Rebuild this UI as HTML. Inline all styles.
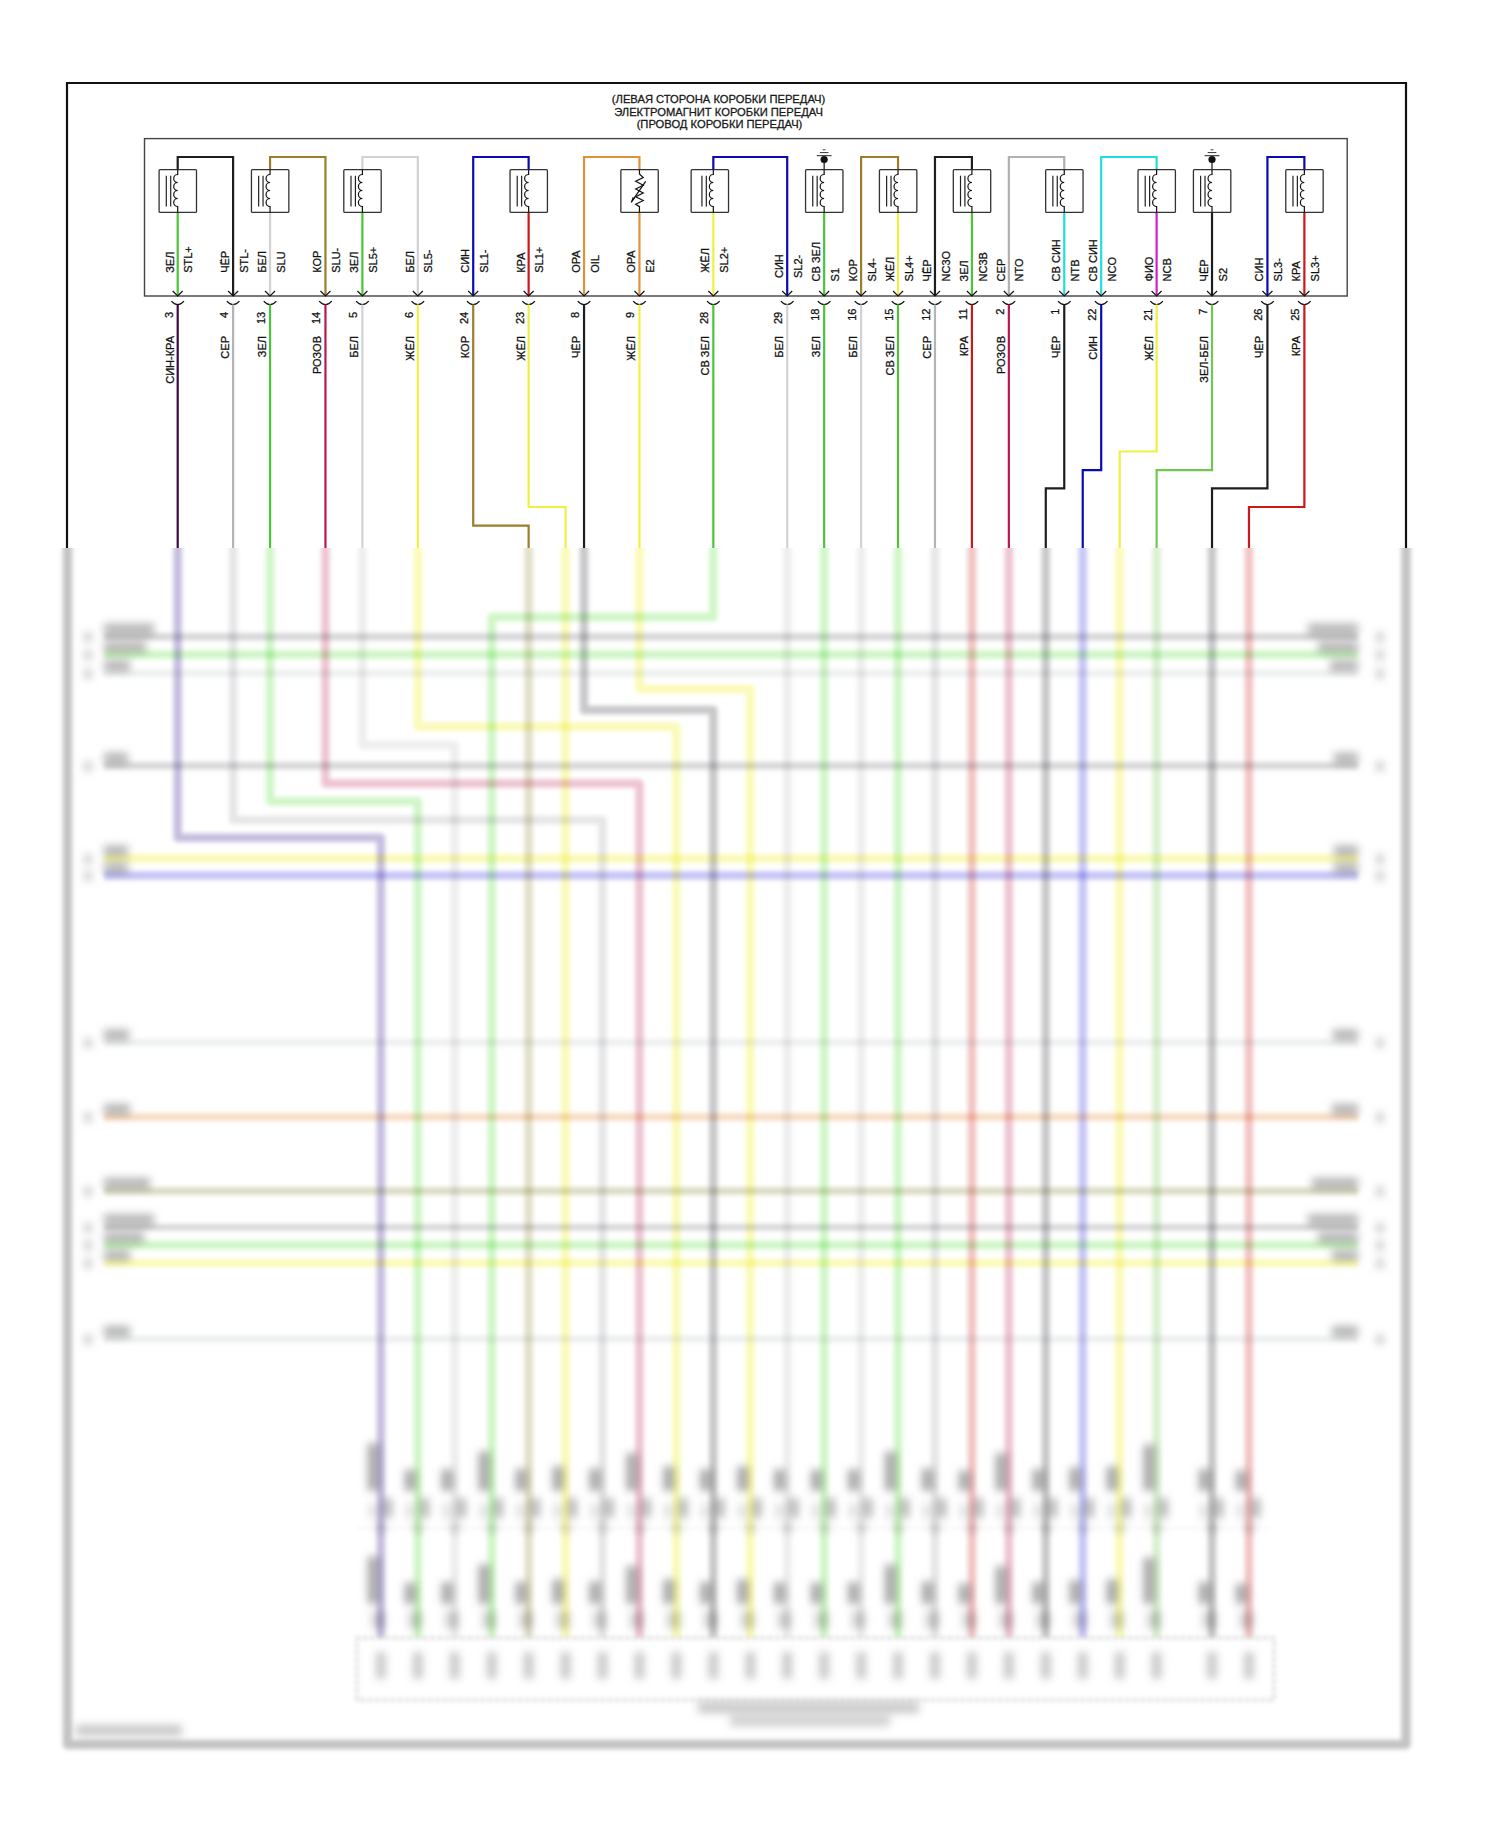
<!DOCTYPE html>
<html><head><meta charset="utf-8"><style>
html,body{margin:0;padding:0;background:#fff;}
body{width:1500px;height:1828px;overflow:hidden;}
svg{display:block;font-family:"Liberation Sans",sans-serif;}
</style></head><body>
<svg width="1500" height="1828" viewBox="0 0 1500 1828">
<defs>
<clipPath id="ctop"><rect x="0" y="0" width="1500" height="548"/></clipPath>
<clipPath id="cbot"><rect x="0" y="548" width="1500" height="1280"/></clipPath>
<filter id="bl" x="-5%" y="-5%" width="110%" height="110%"><feGaussianBlur stdDeviation="2.2"/></filter>
<filter id="bt" x="-5%" y="-5%" width="110%" height="110%"><feGaussianBlur stdDeviation="4.2"/></filter>
</defs>
<rect width="1500" height="1828" fill="#fff"/>

<g clip-path="url(#ctop)" stroke-linecap="butt">
<style>.tt text{stroke:#111;stroke-width:0.28px;}</style>
<path d="M67,560 L67,83 L1406,83 L1406,560" fill="none" stroke="#111" stroke-width="2.2"/>
<g font-size="11.2" fill="#222" text-anchor="middle" class="tt">
<text x="718.5" y="103.3">(ЛЕВАЯ СТОРОНА КОРОБКИ ПЕРЕДАЧ)</text>
<text x="718.5" y="115.8">ЭЛЕКТРОМАГНИТ КОРОБКИ ПЕРЕДАЧ</text>
<text x="719.5" y="128.3">(ПРОВОД КОРОБКИ ПЕРЕДАЧ)</text>
</g>
<rect x="144.5" y="138.6" width="1202.7" height="157.4" fill="none" stroke="#444" stroke-width="1.4"/>
<path d="M177.70,169.7 L177.70,157 L233.11,157 L233.11,295" fill="none" stroke="#1e1e1e" stroke-width="2.2" stroke-linejoin="miter"/>
<line x1="177.70" y1="212.4" x2="177.70" y2="295" stroke="#4cc438" stroke-width="2.2"/>
<rect x="159.10" y="169.7" width="37.4" height="42.70" rx="1" fill="#fff" stroke="#333" stroke-width="1.3"/><path d="M177.70,169.7 L177.70,174.5 A4,4 0 0 0 177.70,182.50 A4,4 0 0 0 177.70,190.50 A4,4 0 0 0 177.70,198.50 A4,4 0 0 0 177.70,206.50 L177.70,212.4" fill="none" stroke="#111" stroke-width="1.2"/><line x1="166.30" y1="175.7" x2="166.30" y2="206.4" stroke="#222" stroke-width="1.2"/><line x1="170.70" y1="175.7" x2="170.70" y2="206.4" stroke="#222" stroke-width="1.2"/>
<path d="M270.05,169.7 L270.05,157 L325.46,157 L325.46,295" fill="none" stroke="#9a7e2a" stroke-width="2.2" stroke-linejoin="miter"/>
<line x1="270.05" y1="212.4" x2="270.05" y2="295" stroke="#d2d2d2" stroke-width="2.2"/>
<rect x="251.45" y="169.7" width="37.4" height="42.70" rx="1" fill="#fff" stroke="#333" stroke-width="1.3"/><path d="M270.05,169.7 L270.05,174.5 A4,4 0 0 0 270.05,182.50 A4,4 0 0 0 270.05,190.50 A4,4 0 0 0 270.05,198.50 A4,4 0 0 0 270.05,206.50 L270.05,212.4" fill="none" stroke="#111" stroke-width="1.2"/><line x1="258.65" y1="175.7" x2="258.65" y2="206.4" stroke="#222" stroke-width="1.2"/><line x1="263.05" y1="175.7" x2="263.05" y2="206.4" stroke="#222" stroke-width="1.2"/>
<path d="M362.40,169.7 L362.40,157 L417.81,157 L417.81,295" fill="none" stroke="#d2d2d2" stroke-width="2.2" stroke-linejoin="miter"/>
<line x1="362.40" y1="212.4" x2="362.40" y2="295" stroke="#4cc438" stroke-width="2.2"/>
<rect x="343.80" y="169.7" width="37.4" height="42.70" rx="1" fill="#fff" stroke="#333" stroke-width="1.3"/><path d="M362.40,169.7 L362.40,174.5 A4,4 0 0 0 362.40,182.50 A4,4 0 0 0 362.40,190.50 A4,4 0 0 0 362.40,198.50 A4,4 0 0 0 362.40,206.50 L362.40,212.4" fill="none" stroke="#111" stroke-width="1.2"/><line x1="351.00" y1="175.7" x2="351.00" y2="206.4" stroke="#222" stroke-width="1.2"/><line x1="355.40" y1="175.7" x2="355.40" y2="206.4" stroke="#222" stroke-width="1.2"/>
<path d="M528.63,169.7 L528.63,157 L473.22,157 L473.22,295" fill="none" stroke="#0a0ab4" stroke-width="2.2" stroke-linejoin="miter"/>
<line x1="528.63" y1="212.4" x2="528.63" y2="295" stroke="#cc1818" stroke-width="2.2"/>
<rect x="510.03" y="169.7" width="37.4" height="42.70" rx="1" fill="#fff" stroke="#333" stroke-width="1.3"/><path d="M528.63,169.7 L528.63,174.5 A4,4 0 0 0 528.63,182.50 A4,4 0 0 0 528.63,190.50 A4,4 0 0 0 528.63,198.50 A4,4 0 0 0 528.63,206.50 L528.63,212.4" fill="none" stroke="#111" stroke-width="1.2"/><line x1="517.23" y1="175.7" x2="517.23" y2="206.4" stroke="#222" stroke-width="1.2"/><line x1="521.63" y1="175.7" x2="521.63" y2="206.4" stroke="#222" stroke-width="1.2"/>
<path d="M639.45,169.7 L639.45,157 L584.04,157 L584.04,295" fill="none" stroke="#e0923a" stroke-width="2.2" stroke-linejoin="miter"/>
<line x1="639.45" y1="212.4" x2="639.45" y2="295" stroke="#e0923a" stroke-width="2.2"/>
<rect x="620.85" y="169.7" width="37.4" height="42.70" rx="1" fill="#fff" stroke="#333" stroke-width="1.3"/><path d="M639.45,169.70 L639.45,174.00 L643.25,177.50 L635.65,181.30 L643.25,185.20 L635.65,189.00 L643.25,193.00 L635.65,196.70 L643.25,200.50 L635.65,204.30 L639.45,206.70 L639.45,212.40" fill="none" stroke="#111" stroke-width="1.2"/><line x1="631.25" y1="202.3" x2="645.65" y2="181.3" stroke="#111" stroke-width="1.2"/><path d="M630.85,202.8 L632.65,197.0 L634.85,198.6 Z" fill="#111"/>
<path d="M713.33,169.7 L713.33,157 L787.21,157 L787.21,295" fill="none" stroke="#0a0ab4" stroke-width="2.2" stroke-linejoin="miter"/>
<line x1="713.33" y1="212.4" x2="713.33" y2="295" stroke="#f0f040" stroke-width="2.2"/>
<rect x="691.13" y="169.7" width="37.4" height="42.70" rx="1" fill="#fff" stroke="#333" stroke-width="1.3"/><path d="M713.33,169.7 L713.33,174.5 A4,4 0 0 0 713.33,182.50 A4,4 0 0 0 713.33,190.50 A4,4 0 0 0 713.33,198.50 A4,4 0 0 0 713.33,206.50 L713.33,212.4" fill="none" stroke="#111" stroke-width="1.2"/><line x1="701.93" y1="175.7" x2="701.93" y2="206.4" stroke="#222" stroke-width="1.2"/><line x1="706.33" y1="175.7" x2="706.33" y2="206.4" stroke="#222" stroke-width="1.2"/>
<line x1="824.15" y1="212.4" x2="824.15" y2="295" stroke="#4cc438" stroke-width="2.2"/>
<line x1="824.15" y1="160" x2="824.15" y2="169.7" stroke="#111" stroke-width="1.2"/><circle cx="824.15" cy="159.5" r="3.6" fill="#111"/><line x1="816.75" y1="155.7" x2="831.55" y2="155.7" stroke="#222" stroke-width="1"/><line x1="819.85" y1="152.6" x2="828.45" y2="152.6" stroke="#333" stroke-width="1"/><line x1="822.75" y1="149.8" x2="825.55" y2="149.8" stroke="#444" stroke-width="1"/><rect x="805.55" y="169.7" width="37.4" height="42.70" rx="1" fill="#fff" stroke="#333" stroke-width="1.3"/><path d="M824.15,169.7 L824.15,174.5 A4,4 0 0 0 824.15,182.50 A4,4 0 0 0 824.15,190.50 A4,4 0 0 0 824.15,198.50 A4,4 0 0 0 824.15,206.50 L824.15,212.4" fill="none" stroke="#111" stroke-width="1.2"/><line x1="812.75" y1="175.7" x2="812.75" y2="206.4" stroke="#222" stroke-width="1.2"/><line x1="817.15" y1="175.7" x2="817.15" y2="206.4" stroke="#222" stroke-width="1.2"/>
<path d="M898.03,169.7 L898.03,157 L861.09,157 L861.09,295" fill="none" stroke="#9a7e2a" stroke-width="2.2" stroke-linejoin="miter"/>
<line x1="898.03" y1="212.4" x2="898.03" y2="295" stroke="#f0f040" stroke-width="2.2"/>
<rect x="879.43" y="169.7" width="37.4" height="42.70" rx="1" fill="#fff" stroke="#333" stroke-width="1.3"/><path d="M898.03,169.7 L898.03,174.5 A4,4 0 0 0 898.03,182.50 A4,4 0 0 0 898.03,190.50 A4,4 0 0 0 898.03,198.50 A4,4 0 0 0 898.03,206.50 L898.03,212.4" fill="none" stroke="#111" stroke-width="1.2"/><line x1="886.63" y1="175.7" x2="886.63" y2="206.4" stroke="#222" stroke-width="1.2"/><line x1="891.03" y1="175.7" x2="891.03" y2="206.4" stroke="#222" stroke-width="1.2"/>
<path d="M971.91,169.7 L971.91,157 L934.97,157 L934.97,295" fill="none" stroke="#1e1e1e" stroke-width="2.2" stroke-linejoin="miter"/>
<line x1="971.91" y1="212.4" x2="971.91" y2="295" stroke="#4cc438" stroke-width="2.2"/>
<rect x="953.31" y="169.7" width="37.4" height="42.70" rx="1" fill="#fff" stroke="#333" stroke-width="1.3"/><path d="M971.91,169.7 L971.91,174.5 A4,4 0 0 0 971.91,182.50 A4,4 0 0 0 971.91,190.50 A4,4 0 0 0 971.91,198.50 A4,4 0 0 0 971.91,206.50 L971.91,212.4" fill="none" stroke="#111" stroke-width="1.2"/><line x1="960.51" y1="175.7" x2="960.51" y2="206.4" stroke="#222" stroke-width="1.2"/><line x1="964.91" y1="175.7" x2="964.91" y2="206.4" stroke="#222" stroke-width="1.2"/>
<path d="M1064.26,169.7 L1064.26,157 L1008.85,157 L1008.85,295" fill="none" stroke="#b0b0b0" stroke-width="2.2" stroke-linejoin="miter"/>
<line x1="1064.26" y1="212.4" x2="1064.26" y2="295" stroke="#22dddd" stroke-width="2.2"/>
<rect x="1045.66" y="169.7" width="37.4" height="42.70" rx="1" fill="#fff" stroke="#333" stroke-width="1.3"/><path d="M1064.26,169.7 L1064.26,174.5 A4,4 0 0 0 1064.26,182.50 A4,4 0 0 0 1064.26,190.50 A4,4 0 0 0 1064.26,198.50 A4,4 0 0 0 1064.26,206.50 L1064.26,212.4" fill="none" stroke="#111" stroke-width="1.2"/><line x1="1052.86" y1="175.7" x2="1052.86" y2="206.4" stroke="#222" stroke-width="1.2"/><line x1="1057.26" y1="175.7" x2="1057.26" y2="206.4" stroke="#222" stroke-width="1.2"/>
<path d="M1156.61,169.7 L1156.61,157 L1101.20,157 L1101.20,295" fill="none" stroke="#22dddd" stroke-width="2.2" stroke-linejoin="miter"/>
<line x1="1156.61" y1="212.4" x2="1156.61" y2="295" stroke="#cc22cc" stroke-width="2.2"/>
<rect x="1138.01" y="169.7" width="37.4" height="42.70" rx="1" fill="#fff" stroke="#333" stroke-width="1.3"/><path d="M1156.61,169.7 L1156.61,174.5 A4,4 0 0 0 1156.61,182.50 A4,4 0 0 0 1156.61,190.50 A4,4 0 0 0 1156.61,198.50 A4,4 0 0 0 1156.61,206.50 L1156.61,212.4" fill="none" stroke="#111" stroke-width="1.2"/><line x1="1145.21" y1="175.7" x2="1145.21" y2="206.4" stroke="#222" stroke-width="1.2"/><line x1="1149.61" y1="175.7" x2="1149.61" y2="206.4" stroke="#222" stroke-width="1.2"/>
<line x1="1212.02" y1="212.4" x2="1212.02" y2="295" stroke="#1e1e1e" stroke-width="2.2"/>
<line x1="1212.02" y1="160" x2="1212.02" y2="169.7" stroke="#111" stroke-width="1.2"/><circle cx="1212.02" cy="159.5" r="3.6" fill="#111"/><line x1="1204.62" y1="155.7" x2="1219.42" y2="155.7" stroke="#222" stroke-width="1"/><line x1="1207.72" y1="152.6" x2="1216.32" y2="152.6" stroke="#333" stroke-width="1"/><line x1="1210.62" y1="149.8" x2="1213.42" y2="149.8" stroke="#444" stroke-width="1"/><rect x="1193.42" y="169.7" width="37.4" height="42.70" rx="1" fill="#fff" stroke="#333" stroke-width="1.3"/><path d="M1212.02,169.7 L1212.02,174.5 A4,4 0 0 0 1212.02,182.50 A4,4 0 0 0 1212.02,190.50 A4,4 0 0 0 1212.02,198.50 A4,4 0 0 0 1212.02,206.50 L1212.02,212.4" fill="none" stroke="#111" stroke-width="1.2"/><line x1="1200.62" y1="175.7" x2="1200.62" y2="206.4" stroke="#222" stroke-width="1.2"/><line x1="1205.02" y1="175.7" x2="1205.02" y2="206.4" stroke="#222" stroke-width="1.2"/>
<path d="M1304.37,169.7 L1304.37,157 L1267.43,157 L1267.43,295" fill="none" stroke="#0a0ab4" stroke-width="2.2" stroke-linejoin="miter"/>
<line x1="1304.37" y1="212.4" x2="1304.37" y2="295" stroke="#cc1818" stroke-width="2.2"/>
<rect x="1285.77" y="169.7" width="37.4" height="42.70" rx="1" fill="#fff" stroke="#333" stroke-width="1.3"/><path d="M1304.37,169.7 L1304.37,174.5 A4,4 0 0 0 1304.37,182.50 A4,4 0 0 0 1304.37,190.50 A4,4 0 0 0 1304.37,198.50 A4,4 0 0 0 1304.37,206.50 L1304.37,212.4" fill="none" stroke="#111" stroke-width="1.2"/><line x1="1292.97" y1="175.7" x2="1292.97" y2="206.4" stroke="#222" stroke-width="1.2"/><line x1="1297.37" y1="175.7" x2="1297.37" y2="206.4" stroke="#222" stroke-width="1.2"/>
<g class="tt">
<path d="M172.70,291 L177.70,296 L182.70,291" fill="none" stroke="#111" stroke-width="1.2"/>
<path d="M171.40,301.1 Q174.20,304.5 177.70,304.5 Q181.20,304.5 184.00,301.1" fill="none" stroke="#111" stroke-width="1.2"/>
<text transform="translate(173.60,272.80) rotate(-90)" text-anchor="start" font-size="11" fill="#111">ЗЕЛ</text>
<text transform="translate(192.30,272.80) rotate(-90)" text-anchor="start" font-size="11" fill="#111">STL+</text>
<text transform="translate(172.70,311.80) rotate(-90)" text-anchor="end" font-size="11" fill="#111">3</text>
<text transform="translate(173.60,336.00) rotate(-90)" text-anchor="end" font-size="11" fill="#111">СИН-КРА</text>
<path d="M228.11,291 L233.11,296 L238.11,291" fill="none" stroke="#111" stroke-width="1.2"/>
<path d="M226.81,301.1 Q229.61,304.5 233.11,304.5 Q236.61,304.5 239.41,301.1" fill="none" stroke="#111" stroke-width="1.2"/>
<text transform="translate(229.01,272.80) rotate(-90)" text-anchor="start" font-size="11" fill="#111">ЧЁР</text>
<text transform="translate(247.71,272.80) rotate(-90)" text-anchor="start" font-size="11" fill="#111">STL-</text>
<text transform="translate(228.11,311.80) rotate(-90)" text-anchor="end" font-size="11" fill="#111">4</text>
<text transform="translate(229.01,336.00) rotate(-90)" text-anchor="end" font-size="11" fill="#111">СЕР</text>
<path d="M265.05,291 L270.05,296 L275.05,291" fill="none" stroke="#111" stroke-width="1.2"/>
<path d="M263.75,301.1 Q266.55,304.5 270.05,304.5 Q273.55,304.5 276.35,301.1" fill="none" stroke="#111" stroke-width="1.2"/>
<text transform="translate(265.95,272.80) rotate(-90)" text-anchor="start" font-size="11" fill="#111">БЕЛ</text>
<text transform="translate(284.65,272.80) rotate(-90)" text-anchor="start" font-size="11" fill="#111">SLU</text>
<text transform="translate(265.05,311.80) rotate(-90)" text-anchor="end" font-size="11" fill="#111">13</text>
<text transform="translate(265.95,336.00) rotate(-90)" text-anchor="end" font-size="11" fill="#111">ЗЕЛ</text>
<path d="M320.46,291 L325.46,296 L330.46,291" fill="none" stroke="#111" stroke-width="1.2"/>
<path d="M319.16,301.1 Q321.96,304.5 325.46,304.5 Q328.96,304.5 331.76,301.1" fill="none" stroke="#111" stroke-width="1.2"/>
<text transform="translate(321.36,272.80) rotate(-90)" text-anchor="start" font-size="11" fill="#111">КОР</text>
<text transform="translate(340.06,272.80) rotate(-90)" text-anchor="start" font-size="11" fill="#111">SLU-</text>
<text transform="translate(320.46,311.80) rotate(-90)" text-anchor="end" font-size="11" fill="#111">14</text>
<text transform="translate(321.36,336.00) rotate(-90)" text-anchor="end" font-size="11" fill="#111">РОЗОВ</text>
<path d="M357.40,291 L362.40,296 L367.40,291" fill="none" stroke="#111" stroke-width="1.2"/>
<path d="M356.10,301.1 Q358.90,304.5 362.40,304.5 Q365.90,304.5 368.70,301.1" fill="none" stroke="#111" stroke-width="1.2"/>
<text transform="translate(358.30,272.80) rotate(-90)" text-anchor="start" font-size="11" fill="#111">ЗЕЛ</text>
<text transform="translate(377.00,272.80) rotate(-90)" text-anchor="start" font-size="11" fill="#111">SL5+</text>
<text transform="translate(357.40,311.80) rotate(-90)" text-anchor="end" font-size="11" fill="#111">5</text>
<text transform="translate(358.30,336.00) rotate(-90)" text-anchor="end" font-size="11" fill="#111">БЕЛ</text>
<path d="M412.81,291 L417.81,296 L422.81,291" fill="none" stroke="#111" stroke-width="1.2"/>
<path d="M411.51,301.1 Q414.31,304.5 417.81,304.5 Q421.31,304.5 424.11,301.1" fill="none" stroke="#111" stroke-width="1.2"/>
<text transform="translate(413.71,272.80) rotate(-90)" text-anchor="start" font-size="11" fill="#111">БЕЛ</text>
<text transform="translate(432.41,272.80) rotate(-90)" text-anchor="start" font-size="11" fill="#111">SL5-</text>
<text transform="translate(412.81,311.80) rotate(-90)" text-anchor="end" font-size="11" fill="#111">6</text>
<text transform="translate(413.71,336.00) rotate(-90)" text-anchor="end" font-size="11" fill="#111">ЖЁЛ</text>
<path d="M468.22,291 L473.22,296 L478.22,291" fill="none" stroke="#111" stroke-width="1.2"/>
<path d="M466.92,301.1 Q469.72,304.5 473.22,304.5 Q476.72,304.5 479.52,301.1" fill="none" stroke="#111" stroke-width="1.2"/>
<text transform="translate(469.12,272.80) rotate(-90)" text-anchor="start" font-size="11" fill="#111">СИН</text>
<text transform="translate(487.82,272.80) rotate(-90)" text-anchor="start" font-size="11" fill="#111">SL1-</text>
<text transform="translate(468.22,311.80) rotate(-90)" text-anchor="end" font-size="11" fill="#111">24</text>
<text transform="translate(469.12,336.00) rotate(-90)" text-anchor="end" font-size="11" fill="#111">КОР</text>
<path d="M523.63,291 L528.63,296 L533.63,291" fill="none" stroke="#111" stroke-width="1.2"/>
<path d="M522.33,301.1 Q525.13,304.5 528.63,304.5 Q532.13,304.5 534.93,301.1" fill="none" stroke="#111" stroke-width="1.2"/>
<text transform="translate(524.53,272.80) rotate(-90)" text-anchor="start" font-size="11" fill="#111">КРА</text>
<text transform="translate(543.23,272.80) rotate(-90)" text-anchor="start" font-size="11" fill="#111">SL1+</text>
<text transform="translate(523.63,311.80) rotate(-90)" text-anchor="end" font-size="11" fill="#111">23</text>
<text transform="translate(524.53,336.00) rotate(-90)" text-anchor="end" font-size="11" fill="#111">ЖЁЛ</text>
<path d="M579.04,291 L584.04,296 L589.04,291" fill="none" stroke="#111" stroke-width="1.2"/>
<path d="M577.74,301.1 Q580.54,304.5 584.04,304.5 Q587.54,304.5 590.34,301.1" fill="none" stroke="#111" stroke-width="1.2"/>
<text transform="translate(579.94,272.80) rotate(-90)" text-anchor="start" font-size="11" fill="#111">ОРА</text>
<text transform="translate(598.64,272.80) rotate(-90)" text-anchor="start" font-size="11" fill="#111">OIL</text>
<text transform="translate(579.04,311.80) rotate(-90)" text-anchor="end" font-size="11" fill="#111">8</text>
<text transform="translate(579.94,336.00) rotate(-90)" text-anchor="end" font-size="11" fill="#111">ЧЁР</text>
<path d="M634.45,291 L639.45,296 L644.45,291" fill="none" stroke="#111" stroke-width="1.2"/>
<path d="M633.15,301.1 Q635.95,304.5 639.45,304.5 Q642.95,304.5 645.75,301.1" fill="none" stroke="#111" stroke-width="1.2"/>
<text transform="translate(635.35,272.80) rotate(-90)" text-anchor="start" font-size="11" fill="#111">ОРА</text>
<text transform="translate(654.05,272.80) rotate(-90)" text-anchor="start" font-size="11" fill="#111">E2</text>
<text transform="translate(634.45,311.80) rotate(-90)" text-anchor="end" font-size="11" fill="#111">9</text>
<text transform="translate(635.35,336.00) rotate(-90)" text-anchor="end" font-size="11" fill="#111">ЖЁЛ</text>
<path d="M708.33,291 L713.33,296 L718.33,291" fill="none" stroke="#111" stroke-width="1.2"/>
<path d="M707.03,301.1 Q709.83,304.5 713.33,304.5 Q716.83,304.5 719.63,301.1" fill="none" stroke="#111" stroke-width="1.2"/>
<text transform="translate(709.23,272.80) rotate(-90)" text-anchor="start" font-size="11" fill="#111">ЖЁЛ</text>
<text transform="translate(727.93,272.80) rotate(-90)" text-anchor="start" font-size="11" fill="#111">SL2+</text>
<text transform="translate(708.33,311.80) rotate(-90)" text-anchor="end" font-size="11" fill="#111">28</text>
<text transform="translate(709.23,336.00) rotate(-90)" text-anchor="end" font-size="11" fill="#111">СВ ЗЕЛ</text>
<path d="M782.21,291 L787.21,296 L792.21,291" fill="none" stroke="#111" stroke-width="1.2"/>
<path d="M780.91,301.1 Q783.71,304.5 787.21,304.5 Q790.71,304.5 793.51,301.1" fill="none" stroke="#111" stroke-width="1.2"/>
<text transform="translate(783.11,278.00) rotate(-90)" text-anchor="start" font-size="11" fill="#111">СИН</text>
<text transform="translate(801.81,278.00) rotate(-90)" text-anchor="start" font-size="11" fill="#111">SL2-</text>
<text transform="translate(782.21,311.80) rotate(-90)" text-anchor="end" font-size="11" fill="#111">29</text>
<text transform="translate(783.11,336.00) rotate(-90)" text-anchor="end" font-size="11" fill="#111">БЕЛ</text>
<path d="M819.15,291 L824.15,296 L829.15,291" fill="none" stroke="#111" stroke-width="1.2"/>
<path d="M817.85,301.1 Q820.65,304.5 824.15,304.5 Q827.65,304.5 830.45,301.1" fill="none" stroke="#111" stroke-width="1.2"/>
<text transform="translate(820.05,281.40) rotate(-90)" text-anchor="start" font-size="11" fill="#111">СВ ЗЕЛ</text>
<text transform="translate(838.75,281.40) rotate(-90)" text-anchor="start" font-size="11" fill="#111">S1</text>
<text transform="translate(819.15,308.50) rotate(-90)" text-anchor="end" font-size="11" fill="#111">18</text>
<text transform="translate(820.05,336.00) rotate(-90)" text-anchor="end" font-size="11" fill="#111">ЗЕЛ</text>
<path d="M856.09,291 L861.09,296 L866.09,291" fill="none" stroke="#111" stroke-width="1.2"/>
<path d="M854.79,301.1 Q857.59,304.5 861.09,304.5 Q864.59,304.5 867.39,301.1" fill="none" stroke="#111" stroke-width="1.2"/>
<text transform="translate(856.99,281.40) rotate(-90)" text-anchor="start" font-size="11" fill="#111">КОР</text>
<text transform="translate(875.69,281.40) rotate(-90)" text-anchor="start" font-size="11" fill="#111">SL4-</text>
<text transform="translate(856.09,308.50) rotate(-90)" text-anchor="end" font-size="11" fill="#111">16</text>
<text transform="translate(856.99,336.00) rotate(-90)" text-anchor="end" font-size="11" fill="#111">БЕЛ</text>
<path d="M893.03,291 L898.03,296 L903.03,291" fill="none" stroke="#111" stroke-width="1.2"/>
<path d="M891.73,301.1 Q894.53,304.5 898.03,304.5 Q901.53,304.5 904.33,301.1" fill="none" stroke="#111" stroke-width="1.2"/>
<text transform="translate(893.93,281.40) rotate(-90)" text-anchor="start" font-size="11" fill="#111">ЖЁЛ</text>
<text transform="translate(912.63,281.40) rotate(-90)" text-anchor="start" font-size="11" fill="#111">SL4+</text>
<text transform="translate(893.03,308.50) rotate(-90)" text-anchor="end" font-size="11" fill="#111">15</text>
<text transform="translate(893.93,336.00) rotate(-90)" text-anchor="end" font-size="11" fill="#111">СВ ЗЕЛ</text>
<path d="M929.97,291 L934.97,296 L939.97,291" fill="none" stroke="#111" stroke-width="1.2"/>
<path d="M928.67,301.1 Q931.47,304.5 934.97,304.5 Q938.47,304.5 941.27,301.1" fill="none" stroke="#111" stroke-width="1.2"/>
<text transform="translate(930.87,281.40) rotate(-90)" text-anchor="start" font-size="11" fill="#111">ЧЁР</text>
<text transform="translate(949.57,281.40) rotate(-90)" text-anchor="start" font-size="11" fill="#111">NC3O</text>
<text transform="translate(929.97,308.50) rotate(-90)" text-anchor="end" font-size="11" fill="#111">12</text>
<text transform="translate(930.87,336.00) rotate(-90)" text-anchor="end" font-size="11" fill="#111">СЕР</text>
<path d="M966.91,291 L971.91,296 L976.91,291" fill="none" stroke="#111" stroke-width="1.2"/>
<path d="M965.61,301.1 Q968.41,304.5 971.91,304.5 Q975.41,304.5 978.21,301.1" fill="none" stroke="#111" stroke-width="1.2"/>
<text transform="translate(967.81,281.40) rotate(-90)" text-anchor="start" font-size="11" fill="#111">ЗЕЛ</text>
<text transform="translate(986.51,281.40) rotate(-90)" text-anchor="start" font-size="11" fill="#111">NC3B</text>
<text transform="translate(966.91,308.50) rotate(-90)" text-anchor="end" font-size="11" fill="#111">11</text>
<text transform="translate(967.81,336.00) rotate(-90)" text-anchor="end" font-size="11" fill="#111">КРА</text>
<path d="M1003.85,291 L1008.85,296 L1013.85,291" fill="none" stroke="#111" stroke-width="1.2"/>
<path d="M1002.55,301.1 Q1005.35,304.5 1008.85,304.5 Q1012.35,304.5 1015.15,301.1" fill="none" stroke="#111" stroke-width="1.2"/>
<text transform="translate(1004.75,281.40) rotate(-90)" text-anchor="start" font-size="11" fill="#111">СЕР</text>
<text transform="translate(1023.45,281.40) rotate(-90)" text-anchor="start" font-size="11" fill="#111">NTO</text>
<text transform="translate(1003.85,308.50) rotate(-90)" text-anchor="end" font-size="11" fill="#111">2</text>
<text transform="translate(1004.75,336.00) rotate(-90)" text-anchor="end" font-size="11" fill="#111">РОЗОВ</text>
<path d="M1059.26,291 L1064.26,296 L1069.26,291" fill="none" stroke="#111" stroke-width="1.2"/>
<path d="M1057.96,301.1 Q1060.76,304.5 1064.26,304.5 Q1067.76,304.5 1070.56,301.1" fill="none" stroke="#111" stroke-width="1.2"/>
<text transform="translate(1060.16,281.40) rotate(-90)" text-anchor="start" font-size="11" fill="#111">СВ СИН</text>
<text transform="translate(1078.86,281.40) rotate(-90)" text-anchor="start" font-size="11" fill="#111">NTB</text>
<text transform="translate(1059.26,308.50) rotate(-90)" text-anchor="end" font-size="11" fill="#111">1</text>
<text transform="translate(1060.16,336.00) rotate(-90)" text-anchor="end" font-size="11" fill="#111">ЧЁР</text>
<path d="M1096.20,291 L1101.20,296 L1106.20,291" fill="none" stroke="#111" stroke-width="1.2"/>
<path d="M1094.90,301.1 Q1097.70,304.5 1101.20,304.5 Q1104.70,304.5 1107.50,301.1" fill="none" stroke="#111" stroke-width="1.2"/>
<text transform="translate(1097.10,281.40) rotate(-90)" text-anchor="start" font-size="11" fill="#111">СВ СИН</text>
<text transform="translate(1115.80,281.40) rotate(-90)" text-anchor="start" font-size="11" fill="#111">NCO</text>
<text transform="translate(1096.20,308.50) rotate(-90)" text-anchor="end" font-size="11" fill="#111">22</text>
<text transform="translate(1097.10,336.00) rotate(-90)" text-anchor="end" font-size="11" fill="#111">СИН</text>
<path d="M1151.61,291 L1156.61,296 L1161.61,291" fill="none" stroke="#111" stroke-width="1.2"/>
<path d="M1150.31,301.1 Q1153.11,304.5 1156.61,304.5 Q1160.11,304.5 1162.91,301.1" fill="none" stroke="#111" stroke-width="1.2"/>
<text transform="translate(1152.51,281.40) rotate(-90)" text-anchor="start" font-size="11" fill="#111">ФИО</text>
<text transform="translate(1171.21,281.40) rotate(-90)" text-anchor="start" font-size="11" fill="#111">NCB</text>
<text transform="translate(1151.61,308.50) rotate(-90)" text-anchor="end" font-size="11" fill="#111">21</text>
<text transform="translate(1152.51,336.00) rotate(-90)" text-anchor="end" font-size="11" fill="#111">ЖЁЛ</text>
<path d="M1207.02,291 L1212.02,296 L1217.02,291" fill="none" stroke="#111" stroke-width="1.2"/>
<path d="M1205.72,301.1 Q1208.52,304.5 1212.02,304.5 Q1215.52,304.5 1218.32,301.1" fill="none" stroke="#111" stroke-width="1.2"/>
<text transform="translate(1207.92,281.40) rotate(-90)" text-anchor="start" font-size="11" fill="#111">ЧЁР</text>
<text transform="translate(1226.62,281.40) rotate(-90)" text-anchor="start" font-size="11" fill="#111">S2</text>
<text transform="translate(1207.02,308.50) rotate(-90)" text-anchor="end" font-size="11" fill="#111">7</text>
<text transform="translate(1207.92,336.00) rotate(-90)" text-anchor="end" font-size="11" fill="#111">ЗЕЛ-БЕЛ</text>
<path d="M1262.43,291 L1267.43,296 L1272.43,291" fill="none" stroke="#111" stroke-width="1.2"/>
<path d="M1261.13,301.1 Q1263.93,304.5 1267.43,304.5 Q1270.93,304.5 1273.73,301.1" fill="none" stroke="#111" stroke-width="1.2"/>
<text transform="translate(1263.33,281.40) rotate(-90)" text-anchor="start" font-size="11" fill="#111">СИН</text>
<text transform="translate(1282.03,281.40) rotate(-90)" text-anchor="start" font-size="11" fill="#111">SL3-</text>
<text transform="translate(1262.43,308.50) rotate(-90)" text-anchor="end" font-size="11" fill="#111">26</text>
<text transform="translate(1263.33,336.00) rotate(-90)" text-anchor="end" font-size="11" fill="#111">ЧЁР</text>
<path d="M1299.37,291 L1304.37,296 L1309.37,291" fill="none" stroke="#111" stroke-width="1.2"/>
<path d="M1298.07,301.1 Q1300.87,304.5 1304.37,304.5 Q1307.87,304.5 1310.67,301.1" fill="none" stroke="#111" stroke-width="1.2"/>
<text transform="translate(1300.27,281.40) rotate(-90)" text-anchor="start" font-size="11" fill="#111">КРА</text>
<text transform="translate(1318.97,281.40) rotate(-90)" text-anchor="start" font-size="11" fill="#111">SL3+</text>
<text transform="translate(1299.37,308.50) rotate(-90)" text-anchor="end" font-size="11" fill="#111">25</text>
<text transform="translate(1300.27,336.00) rotate(-90)" text-anchor="end" font-size="11" fill="#111">КРА</text>
</g>
<line x1="177.70" y1="304.5" x2="177.70" y2="560" stroke="#3a0a48" stroke-width="2.2"/>
<line x1="233.11" y1="304.5" x2="233.11" y2="560" stroke="#b4b4b4" stroke-width="2.2"/>
<line x1="270.05" y1="304.5" x2="270.05" y2="560" stroke="#4cc438" stroke-width="2.2"/>
<line x1="325.46" y1="304.5" x2="325.46" y2="560" stroke="#b8184a" stroke-width="2.2"/>
<line x1="362.40" y1="304.5" x2="362.40" y2="560" stroke="#d2d2d2" stroke-width="2.2"/>
<line x1="417.81" y1="304.5" x2="417.81" y2="560" stroke="#f0f040" stroke-width="2.2"/>
<path d="M473.22,304.5 L473.22,525.6 L528.63,525.6 L528.63,560" fill="none" stroke="#9a7e2a" stroke-width="2.2"/>
<path d="M528.63,304.5 L528.63,507.0 L565.57,507.0 L565.57,560" fill="none" stroke="#f0f040" stroke-width="2.2"/>
<line x1="584.04" y1="304.5" x2="584.04" y2="560" stroke="#1e1e1e" stroke-width="2.2"/>
<line x1="639.45" y1="304.5" x2="639.45" y2="560" stroke="#f0f040" stroke-width="2.2"/>
<line x1="713.33" y1="304.5" x2="713.33" y2="560" stroke="#4cc438" stroke-width="2.2"/>
<line x1="787.21" y1="304.5" x2="787.21" y2="560" stroke="#d2d2d2" stroke-width="2.2"/>
<line x1="824.15" y1="304.5" x2="824.15" y2="560" stroke="#4cc438" stroke-width="2.2"/>
<line x1="861.09" y1="304.5" x2="861.09" y2="560" stroke="#d2d2d2" stroke-width="2.2"/>
<line x1="898.03" y1="304.5" x2="898.03" y2="560" stroke="#4cc438" stroke-width="2.2"/>
<line x1="934.97" y1="304.5" x2="934.97" y2="560" stroke="#b4b4b4" stroke-width="2.2"/>
<line x1="971.91" y1="304.5" x2="971.91" y2="560" stroke="#cc1818" stroke-width="2.2"/>
<line x1="1008.85" y1="304.5" x2="1008.85" y2="560" stroke="#b8184a" stroke-width="2.2"/>
<path d="M1064.26,304.5 L1064.26,488.4 L1045.79,488.4 L1045.79,560" fill="none" stroke="#1e1e1e" stroke-width="2.2"/>
<path d="M1101.20,304.5 L1101.20,470.2 L1082.73,470.2 L1082.73,560" fill="none" stroke="#0a0ab4" stroke-width="2.2"/>
<path d="M1156.61,304.5 L1156.61,451.5 L1119.67,451.5 L1119.67,560" fill="none" stroke="#f0f040" stroke-width="2.2"/>
<path d="M1212.02,304.5 L1212.02,470.2 L1156.61,470.2 L1156.61,560" fill="none" stroke="#70c850" stroke-width="2.2"/>
<path d="M1267.43,304.5 L1267.43,488.4 L1212.02,488.4 L1212.02,560" fill="none" stroke="#1e1e1e" stroke-width="2.2"/>
<path d="M1304.37,304.5 L1304.37,507.0 L1248.96,507.0 L1248.96,560" fill="none" stroke="#cc1818" stroke-width="2.2"/>
</g>
<g clip-path="url(#cbot)"><g filter="url(#bl)" style="isolation:isolate">
<path d="M67.5,500 L67.5,1744.5 L1406,1744.5 L1406,500" fill="none" stroke="#c4c4c4" stroke-width="9.5" stroke-linejoin="round" style="mix-blend-mode:multiply"/>
<path d="M104,636.7 L1358,636.7" fill="none" stroke="#d8d8da" stroke-width="7.5" stroke-linejoin="round" style="mix-blend-mode:multiply"/>
<path d="M104,654.6 L1358,654.6" fill="none" stroke="#d0f6c8" stroke-width="8.5" stroke-linejoin="round" style="mix-blend-mode:multiply"/>
<path d="M104,673.3 L1358,673.3" fill="none" stroke="#eef0f0" stroke-width="7" stroke-linejoin="round" style="mix-blend-mode:multiply"/>
<path d="M104,765.8 L1358,765.8" fill="none" stroke="#d8d8da" stroke-width="7.5" stroke-linejoin="round" style="mix-blend-mode:multiply"/>
<path d="M104,858.5 L1358,858.5" fill="none" stroke="#fafab8" stroke-width="8.5" stroke-linejoin="round" style="mix-blend-mode:multiply"/>
<path d="M104,875.5 L1358,875.5" fill="none" stroke="#c8c6f6" stroke-width="8.5" stroke-linejoin="round" style="mix-blend-mode:multiply"/>
<path d="M104,1042.5 L1358,1042.5" fill="none" stroke="#eef0f0" stroke-width="7" stroke-linejoin="round" style="mix-blend-mode:multiply"/>
<path d="M104,1117 L1358,1117" fill="none" stroke="#f8dcc4" stroke-width="7.5" stroke-linejoin="round" style="mix-blend-mode:multiply"/>
<path d="M104,1191 L1358,1191" fill="none" stroke="#dcdcc4" stroke-width="7.5" stroke-linejoin="round" style="mix-blend-mode:multiply"/>
<path d="M104,1227.3 L1358,1227.3" fill="none" stroke="#d8d8da" stroke-width="6.5" stroke-linejoin="round" style="mix-blend-mode:multiply"/>
<path d="M104,1245 L1358,1245" fill="none" stroke="#d0f6c8" stroke-width="8.5" stroke-linejoin="round" style="mix-blend-mode:multiply"/>
<path d="M104,1263 L1358,1263" fill="none" stroke="#fafab8" stroke-width="8" stroke-linejoin="round" style="mix-blend-mode:multiply"/>
<path d="M104,1339 L1358,1339" fill="none" stroke="#eef0f0" stroke-width="7" stroke-linejoin="round" style="mix-blend-mode:multiply"/>
<path d="M177.70,500 L177.70,837.8 L380.87,837.8 L380.87,1637" fill="none" stroke="#c6bedf" stroke-width="8.5" stroke-linejoin="round" style="mix-blend-mode:multiply"/>
<path d="M233.11,500 L233.11,820 L602.51,820 L602.51,1637" fill="none" stroke="#e6e6e8" stroke-width="8.5" stroke-linejoin="round" style="mix-blend-mode:multiply"/>
<path d="M270.05,500 L270.05,801.3 L417.81,801.3 L417.81,1637" fill="none" stroke="#d0f6c8" stroke-width="8.5" stroke-linejoin="round" style="mix-blend-mode:multiply"/>
<path d="M325.46,500 L325.46,783.6 L639.45,783.6 L639.45,1637" fill="none" stroke="#eec4d2" stroke-width="8.5" stroke-linejoin="round" style="mix-blend-mode:multiply"/>
<path d="M362.40,500 L362.40,745 L454.75,745 L454.75,1637" fill="none" stroke="#eeeeee" stroke-width="8.5" stroke-linejoin="round" style="mix-blend-mode:multiply"/>
<path d="M417.81,500 L417.81,726.7 L676.39,726.7 L676.39,1637" fill="none" stroke="#fafab8" stroke-width="8.5" stroke-linejoin="round" style="mix-blend-mode:multiply"/>
<path d="M528.63,500 L528.63,1637" fill="none" stroke="#e2e0c8" stroke-width="8.5" stroke-linejoin="round" style="mix-blend-mode:multiply"/>
<path d="M565.57,500 L565.57,1637" fill="none" stroke="#fafab8" stroke-width="8.5" stroke-linejoin="round" style="mix-blend-mode:multiply"/>
<path d="M584.04,500 L584.04,710 L713.33,710 L713.33,1637" fill="none" stroke="#c8c8ca" stroke-width="8.5" stroke-linejoin="round" style="mix-blend-mode:multiply"/>
<path d="M639.45,500 L639.45,689 L750.27,689 L750.27,1637" fill="none" stroke="#fafab8" stroke-width="8.5" stroke-linejoin="round" style="mix-blend-mode:multiply"/>
<path d="M713.33,500 L713.33,617 L491.69,617 L491.69,1637" fill="none" stroke="#d0f6c8" stroke-width="8.5" stroke-linejoin="round" style="mix-blend-mode:multiply"/>
<path d="M787.21,500 L787.21,1637" fill="none" stroke="#eeeeee" stroke-width="8.5" stroke-linejoin="round" style="mix-blend-mode:multiply"/>
<path d="M824.15,500 L824.15,1637" fill="none" stroke="#d0f6c8" stroke-width="8.5" stroke-linejoin="round" style="mix-blend-mode:multiply"/>
<path d="M861.09,500 L861.09,1637" fill="none" stroke="#eeeeee" stroke-width="8.5" stroke-linejoin="round" style="mix-blend-mode:multiply"/>
<path d="M898.03,500 L898.03,1637" fill="none" stroke="#d0f6c8" stroke-width="8.5" stroke-linejoin="round" style="mix-blend-mode:multiply"/>
<path d="M934.97,500 L934.97,1637" fill="none" stroke="#e6e6e8" stroke-width="8.5" stroke-linejoin="round" style="mix-blend-mode:multiply"/>
<path d="M971.91,500 L971.91,1637" fill="none" stroke="#f2c4c4" stroke-width="8.5" stroke-linejoin="round" style="mix-blend-mode:multiply"/>
<path d="M1008.85,500 L1008.85,1637" fill="none" stroke="#eec4d2" stroke-width="8.5" stroke-linejoin="round" style="mix-blend-mode:multiply"/>
<path d="M1045.79,500 L1045.79,1637" fill="none" stroke="#c8c8ca" stroke-width="8.5" stroke-linejoin="round" style="mix-blend-mode:multiply"/>
<path d="M1082.73,500 L1082.73,1637" fill="none" stroke="#c8c6f6" stroke-width="8.5" stroke-linejoin="round" style="mix-blend-mode:multiply"/>
<path d="M1119.67,500 L1119.67,1637" fill="none" stroke="#fafab8" stroke-width="8.5" stroke-linejoin="round" style="mix-blend-mode:multiply"/>
<path d="M1156.61,500 L1156.61,1637" fill="none" stroke="#daf0d2" stroke-width="8.5" stroke-linejoin="round" style="mix-blend-mode:multiply"/>
<path d="M1212.02,500 L1212.02,1637" fill="none" stroke="#c8c8ca" stroke-width="8.5" stroke-linejoin="round" style="mix-blend-mode:multiply"/>
<path d="M1248.96,500 L1248.96,1637" fill="none" stroke="#f2c4c4" stroke-width="8.5" stroke-linejoin="round" style="mix-blend-mode:multiply"/>
</g>
<g filter="url(#bt)" style="mix-blend-mode:multiply">
<rect x="104" y="623.7" width="50" height="11" fill="#b4b4b4"/>
<rect x="1308" y="623.7" width="50" height="11" fill="#b4b4b4"/>
<rect x="85" y="632.7" width="6" height="9" fill="#b8b8b8"/>
<rect x="1377" y="632.7" width="6" height="9" fill="#b8b8b8"/>
<rect x="104" y="641.6" width="42" height="11" fill="#b4b4b4"/>
<rect x="1318" y="641.6" width="40" height="11" fill="#b4b4b4"/>
<rect x="85" y="650.6" width="6" height="9" fill="#b8b8b8"/>
<rect x="1377" y="650.6" width="6" height="9" fill="#b8b8b8"/>
<rect x="104" y="660.3" width="26" height="11" fill="#b4b4b4"/>
<rect x="1330" y="660.3" width="28" height="11" fill="#b4b4b4"/>
<rect x="85" y="669.3" width="6" height="9" fill="#b8b8b8"/>
<rect x="1377" y="669.3" width="6" height="9" fill="#b8b8b8"/>
<rect x="104" y="752.8" width="24" height="11" fill="#b4b4b4"/>
<rect x="1334" y="752.8" width="24" height="11" fill="#b4b4b4"/>
<rect x="85" y="761.8" width="6" height="9" fill="#b8b8b8"/>
<rect x="1377" y="761.8" width="6" height="9" fill="#b8b8b8"/>
<rect x="104" y="845.5" width="24" height="11" fill="#b4b4b4"/>
<rect x="1334" y="845.5" width="24" height="11" fill="#b4b4b4"/>
<rect x="85" y="854.5" width="6" height="9" fill="#b8b8b8"/>
<rect x="1377" y="854.5" width="6" height="9" fill="#b8b8b8"/>
<rect x="104" y="862.5" width="24" height="11" fill="#b4b4b4"/>
<rect x="1334" y="862.5" width="24" height="11" fill="#b4b4b4"/>
<rect x="85" y="871.5" width="6" height="9" fill="#b8b8b8"/>
<rect x="1377" y="871.5" width="6" height="9" fill="#b8b8b8"/>
<rect x="104" y="1029.5" width="25" height="11" fill="#b4b4b4"/>
<rect x="1333" y="1029.5" width="25" height="11" fill="#b4b4b4"/>
<rect x="85" y="1038.5" width="6" height="9" fill="#b8b8b8"/>
<rect x="1377" y="1038.5" width="6" height="9" fill="#b8b8b8"/>
<rect x="104" y="1104" width="26" height="11" fill="#b4b4b4"/>
<rect x="1332" y="1104" width="26" height="11" fill="#b4b4b4"/>
<rect x="85" y="1113" width="6" height="9" fill="#b8b8b8"/>
<rect x="1377" y="1113" width="6" height="9" fill="#b8b8b8"/>
<rect x="104" y="1178" width="46" height="11" fill="#b4b4b4"/>
<rect x="1312" y="1178" width="46" height="11" fill="#b4b4b4"/>
<rect x="85" y="1187" width="6" height="9" fill="#b8b8b8"/>
<rect x="1377" y="1187" width="6" height="9" fill="#b8b8b8"/>
<rect x="104" y="1214.3" width="50" height="11" fill="#b4b4b4"/>
<rect x="1308" y="1214.3" width="50" height="11" fill="#b4b4b4"/>
<rect x="85" y="1223.3" width="6" height="9" fill="#b8b8b8"/>
<rect x="1377" y="1223.3" width="6" height="9" fill="#b8b8b8"/>
<rect x="104" y="1232" width="40" height="11" fill="#b4b4b4"/>
<rect x="1318" y="1232" width="40" height="11" fill="#b4b4b4"/>
<rect x="85" y="1241" width="6" height="9" fill="#b8b8b8"/>
<rect x="1377" y="1241" width="6" height="9" fill="#b8b8b8"/>
<rect x="104" y="1250" width="26" height="11" fill="#b4b4b4"/>
<rect x="1332" y="1250" width="26" height="11" fill="#b4b4b4"/>
<rect x="85" y="1259" width="6" height="9" fill="#b8b8b8"/>
<rect x="1377" y="1259" width="6" height="9" fill="#b8b8b8"/>
<rect x="104" y="1326" width="26" height="11" fill="#b4b4b4"/>
<rect x="1332" y="1326" width="26" height="11" fill="#b4b4b4"/>
<rect x="85" y="1335" width="6" height="9" fill="#b8b8b8"/>
<rect x="1377" y="1335" width="6" height="9" fill="#b8b8b8"/>
<rect x="367.9" y="1443.2" width="11" height="47.8" rx="2" fill="#a6a6a6"/>
<rect x="382.9" y="1498" width="9" height="20" rx="2" fill="#b4b4b4"/>
<rect x="368.9" y="1503" width="9" height="16" rx="2" fill="#e0e0e0"/>
<rect x="375.9" y="1523" width="11" height="10" rx="2" fill="#dcdcdc"/>
<rect x="367.9" y="1556.2" width="11" height="47.8" rx="2" fill="#a6a6a6"/>
<rect x="371.9" y="1611" width="13" height="18" rx="2" fill="#cccccc"/>
<rect x="376.4" y="1652" width="9" height="27" rx="2" fill="#c4c4c4"/>
<rect x="404.8" y="1469.8" width="11" height="21.2" rx="2" fill="#a6a6a6"/>
<rect x="419.8" y="1498" width="9" height="20" rx="2" fill="#b4b4b4"/>
<rect x="405.8" y="1503" width="9" height="16" rx="2" fill="#e0e0e0"/>
<rect x="412.8" y="1523" width="11" height="10" rx="2" fill="#dcdcdc"/>
<rect x="404.8" y="1582.8" width="11" height="21.2" rx="2" fill="#a6a6a6"/>
<rect x="408.8" y="1611" width="13" height="18" rx="2" fill="#cccccc"/>
<rect x="413.3" y="1652" width="9" height="27" rx="2" fill="#c4c4c4"/>
<rect x="441.7" y="1469.2" width="11" height="21.8" rx="2" fill="#a6a6a6"/>
<rect x="456.7" y="1498" width="9" height="20" rx="2" fill="#b4b4b4"/>
<rect x="442.7" y="1503" width="9" height="16" rx="2" fill="#e0e0e0"/>
<rect x="449.7" y="1523" width="11" height="10" rx="2" fill="#dcdcdc"/>
<rect x="441.7" y="1582.2" width="11" height="21.8" rx="2" fill="#a6a6a6"/>
<rect x="445.7" y="1611" width="13" height="18" rx="2" fill="#cccccc"/>
<rect x="450.2" y="1652" width="9" height="27" rx="2" fill="#c4c4c4"/>
<rect x="478.7" y="1451.5" width="11" height="39.5" rx="2" fill="#a6a6a6"/>
<rect x="493.7" y="1498" width="9" height="20" rx="2" fill="#b4b4b4"/>
<rect x="479.7" y="1503" width="9" height="16" rx="2" fill="#e0e0e0"/>
<rect x="486.7" y="1523" width="11" height="10" rx="2" fill="#dcdcdc"/>
<rect x="478.7" y="1564.5" width="11" height="39.5" rx="2" fill="#a6a6a6"/>
<rect x="482.7" y="1611" width="13" height="18" rx="2" fill="#cccccc"/>
<rect x="487.2" y="1652" width="9" height="27" rx="2" fill="#c4c4c4"/>
<rect x="515.6" y="1468.8" width="11" height="22.2" rx="2" fill="#a6a6a6"/>
<rect x="530.6" y="1498" width="9" height="20" rx="2" fill="#b4b4b4"/>
<rect x="516.6" y="1503" width="9" height="16" rx="2" fill="#e0e0e0"/>
<rect x="523.6" y="1523" width="11" height="10" rx="2" fill="#dcdcdc"/>
<rect x="515.6" y="1581.8" width="11" height="22.2" rx="2" fill="#a6a6a6"/>
<rect x="519.6" y="1611" width="13" height="18" rx="2" fill="#cccccc"/>
<rect x="524.1" y="1652" width="9" height="27" rx="2" fill="#c4c4c4"/>
<rect x="552.6" y="1466.3" width="11" height="24.7" rx="2" fill="#a6a6a6"/>
<rect x="567.6" y="1498" width="9" height="20" rx="2" fill="#b4b4b4"/>
<rect x="553.6" y="1503" width="9" height="16" rx="2" fill="#e0e0e0"/>
<rect x="560.6" y="1523" width="11" height="10" rx="2" fill="#dcdcdc"/>
<rect x="552.6" y="1579.3" width="11" height="24.7" rx="2" fill="#a6a6a6"/>
<rect x="556.6" y="1611" width="13" height="18" rx="2" fill="#cccccc"/>
<rect x="561.1" y="1652" width="9" height="27" rx="2" fill="#c4c4c4"/>
<rect x="589.5" y="1468.4" width="11" height="22.6" rx="2" fill="#a6a6a6"/>
<rect x="604.5" y="1498" width="9" height="20" rx="2" fill="#b4b4b4"/>
<rect x="590.5" y="1503" width="9" height="16" rx="2" fill="#e0e0e0"/>
<rect x="597.5" y="1523" width="11" height="10" rx="2" fill="#dcdcdc"/>
<rect x="589.5" y="1581.4" width="11" height="22.6" rx="2" fill="#a6a6a6"/>
<rect x="593.5" y="1611" width="13" height="18" rx="2" fill="#cccccc"/>
<rect x="598.0" y="1652" width="9" height="27" rx="2" fill="#c4c4c4"/>
<rect x="626.5" y="1452.9" width="11" height="38.1" rx="2" fill="#a6a6a6"/>
<rect x="641.5" y="1498" width="9" height="20" rx="2" fill="#b4b4b4"/>
<rect x="627.5" y="1503" width="9" height="16" rx="2" fill="#e0e0e0"/>
<rect x="634.5" y="1523" width="11" height="10" rx="2" fill="#dcdcdc"/>
<rect x="626.5" y="1565.9" width="11" height="38.1" rx="2" fill="#a6a6a6"/>
<rect x="630.5" y="1611" width="13" height="18" rx="2" fill="#cccccc"/>
<rect x="635.0" y="1652" width="9" height="27" rx="2" fill="#c4c4c4"/>
<rect x="663.4" y="1466.3" width="11" height="24.7" rx="2" fill="#a6a6a6"/>
<rect x="678.4" y="1498" width="9" height="20" rx="2" fill="#b4b4b4"/>
<rect x="664.4" y="1503" width="9" height="16" rx="2" fill="#e0e0e0"/>
<rect x="671.4" y="1523" width="11" height="10" rx="2" fill="#dcdcdc"/>
<rect x="663.4" y="1579.3" width="11" height="24.7" rx="2" fill="#a6a6a6"/>
<rect x="667.4" y="1611" width="13" height="18" rx="2" fill="#cccccc"/>
<rect x="671.9" y="1652" width="9" height="27" rx="2" fill="#c4c4c4"/>
<rect x="700.3" y="1469.0" width="11" height="22.0" rx="2" fill="#a6a6a6"/>
<rect x="715.3" y="1498" width="9" height="20" rx="2" fill="#b4b4b4"/>
<rect x="701.3" y="1503" width="9" height="16" rx="2" fill="#e0e0e0"/>
<rect x="708.3" y="1523" width="11" height="10" rx="2" fill="#dcdcdc"/>
<rect x="700.3" y="1582.0" width="11" height="22.0" rx="2" fill="#a6a6a6"/>
<rect x="704.3" y="1611" width="13" height="18" rx="2" fill="#cccccc"/>
<rect x="708.8" y="1652" width="9" height="27" rx="2" fill="#c4c4c4"/>
<rect x="737.3" y="1466.3" width="11" height="24.7" rx="2" fill="#a6a6a6"/>
<rect x="752.3" y="1498" width="9" height="20" rx="2" fill="#b4b4b4"/>
<rect x="738.3" y="1503" width="9" height="16" rx="2" fill="#e0e0e0"/>
<rect x="745.3" y="1523" width="11" height="10" rx="2" fill="#dcdcdc"/>
<rect x="737.3" y="1579.3" width="11" height="24.7" rx="2" fill="#a6a6a6"/>
<rect x="741.3" y="1611" width="13" height="18" rx="2" fill="#cccccc"/>
<rect x="745.8" y="1652" width="9" height="27" rx="2" fill="#c4c4c4"/>
<rect x="774.2" y="1469.2" width="11" height="21.8" rx="2" fill="#a6a6a6"/>
<rect x="789.2" y="1498" width="9" height="20" rx="2" fill="#b4b4b4"/>
<rect x="775.2" y="1503" width="9" height="16" rx="2" fill="#e0e0e0"/>
<rect x="782.2" y="1523" width="11" height="10" rx="2" fill="#dcdcdc"/>
<rect x="774.2" y="1582.2" width="11" height="21.8" rx="2" fill="#a6a6a6"/>
<rect x="778.2" y="1611" width="13" height="18" rx="2" fill="#cccccc"/>
<rect x="782.7" y="1652" width="9" height="27" rx="2" fill="#c4c4c4"/>
<rect x="811.1" y="1469.8" width="11" height="21.2" rx="2" fill="#a6a6a6"/>
<rect x="826.1" y="1498" width="9" height="20" rx="2" fill="#b4b4b4"/>
<rect x="812.1" y="1503" width="9" height="16" rx="2" fill="#e0e0e0"/>
<rect x="819.1" y="1523" width="11" height="10" rx="2" fill="#dcdcdc"/>
<rect x="811.1" y="1582.8" width="11" height="21.2" rx="2" fill="#a6a6a6"/>
<rect x="815.1" y="1611" width="13" height="18" rx="2" fill="#cccccc"/>
<rect x="819.6" y="1652" width="9" height="27" rx="2" fill="#c4c4c4"/>
<rect x="848.1" y="1469.2" width="11" height="21.8" rx="2" fill="#a6a6a6"/>
<rect x="863.1" y="1498" width="9" height="20" rx="2" fill="#b4b4b4"/>
<rect x="849.1" y="1503" width="9" height="16" rx="2" fill="#e0e0e0"/>
<rect x="856.1" y="1523" width="11" height="10" rx="2" fill="#dcdcdc"/>
<rect x="848.1" y="1582.2" width="11" height="21.8" rx="2" fill="#a6a6a6"/>
<rect x="852.1" y="1611" width="13" height="18" rx="2" fill="#cccccc"/>
<rect x="856.6" y="1652" width="9" height="27" rx="2" fill="#c4c4c4"/>
<rect x="885.0" y="1451.5" width="11" height="39.5" rx="2" fill="#a6a6a6"/>
<rect x="900.0" y="1498" width="9" height="20" rx="2" fill="#b4b4b4"/>
<rect x="886.0" y="1503" width="9" height="16" rx="2" fill="#e0e0e0"/>
<rect x="893.0" y="1523" width="11" height="10" rx="2" fill="#dcdcdc"/>
<rect x="885.0" y="1564.5" width="11" height="39.5" rx="2" fill="#a6a6a6"/>
<rect x="889.0" y="1611" width="13" height="18" rx="2" fill="#cccccc"/>
<rect x="893.5" y="1652" width="9" height="27" rx="2" fill="#c4c4c4"/>
<rect x="922.0" y="1468.4" width="11" height="22.6" rx="2" fill="#a6a6a6"/>
<rect x="937.0" y="1498" width="9" height="20" rx="2" fill="#b4b4b4"/>
<rect x="923.0" y="1503" width="9" height="16" rx="2" fill="#e0e0e0"/>
<rect x="930.0" y="1523" width="11" height="10" rx="2" fill="#dcdcdc"/>
<rect x="922.0" y="1581.4" width="11" height="22.6" rx="2" fill="#a6a6a6"/>
<rect x="926.0" y="1611" width="13" height="18" rx="2" fill="#cccccc"/>
<rect x="930.5" y="1652" width="9" height="27" rx="2" fill="#c4c4c4"/>
<rect x="958.9" y="1470.6" width="11" height="20.4" rx="2" fill="#a6a6a6"/>
<rect x="973.9" y="1498" width="9" height="20" rx="2" fill="#b4b4b4"/>
<rect x="959.9" y="1503" width="9" height="16" rx="2" fill="#e0e0e0"/>
<rect x="966.9" y="1523" width="11" height="10" rx="2" fill="#dcdcdc"/>
<rect x="958.9" y="1583.6" width="11" height="20.4" rx="2" fill="#a6a6a6"/>
<rect x="962.9" y="1611" width="13" height="18" rx="2" fill="#cccccc"/>
<rect x="967.4" y="1652" width="9" height="27" rx="2" fill="#c4c4c4"/>
<rect x="995.8" y="1452.9" width="11" height="38.1" rx="2" fill="#a6a6a6"/>
<rect x="1010.8" y="1498" width="9" height="20" rx="2" fill="#b4b4b4"/>
<rect x="996.8" y="1503" width="9" height="16" rx="2" fill="#e0e0e0"/>
<rect x="1003.8" y="1523" width="11" height="10" rx="2" fill="#dcdcdc"/>
<rect x="995.8" y="1565.9" width="11" height="38.1" rx="2" fill="#a6a6a6"/>
<rect x="999.8" y="1611" width="13" height="18" rx="2" fill="#cccccc"/>
<rect x="1004.3" y="1652" width="9" height="27" rx="2" fill="#c4c4c4"/>
<rect x="1032.8" y="1469.0" width="11" height="22.0" rx="2" fill="#a6a6a6"/>
<rect x="1047.8" y="1498" width="9" height="20" rx="2" fill="#b4b4b4"/>
<rect x="1033.8" y="1503" width="9" height="16" rx="2" fill="#e0e0e0"/>
<rect x="1040.8" y="1523" width="11" height="10" rx="2" fill="#dcdcdc"/>
<rect x="1032.8" y="1582.0" width="11" height="22.0" rx="2" fill="#a6a6a6"/>
<rect x="1036.8" y="1611" width="13" height="18" rx="2" fill="#cccccc"/>
<rect x="1041.3" y="1652" width="9" height="27" rx="2" fill="#c4c4c4"/>
<rect x="1069.7" y="1467.2" width="11" height="23.8" rx="2" fill="#a6a6a6"/>
<rect x="1084.7" y="1498" width="9" height="20" rx="2" fill="#b4b4b4"/>
<rect x="1070.7" y="1503" width="9" height="16" rx="2" fill="#e0e0e0"/>
<rect x="1077.7" y="1523" width="11" height="10" rx="2" fill="#dcdcdc"/>
<rect x="1069.7" y="1580.2" width="11" height="23.8" rx="2" fill="#a6a6a6"/>
<rect x="1073.7" y="1611" width="13" height="18" rx="2" fill="#cccccc"/>
<rect x="1078.2" y="1652" width="9" height="27" rx="2" fill="#c4c4c4"/>
<rect x="1106.7" y="1466.3" width="11" height="24.7" rx="2" fill="#a6a6a6"/>
<rect x="1121.7" y="1498" width="9" height="20" rx="2" fill="#b4b4b4"/>
<rect x="1107.7" y="1503" width="9" height="16" rx="2" fill="#e0e0e0"/>
<rect x="1114.7" y="1523" width="11" height="10" rx="2" fill="#dcdcdc"/>
<rect x="1106.7" y="1579.3" width="11" height="24.7" rx="2" fill="#a6a6a6"/>
<rect x="1110.7" y="1611" width="13" height="18" rx="2" fill="#cccccc"/>
<rect x="1115.2" y="1652" width="9" height="27" rx="2" fill="#c4c4c4"/>
<rect x="1143.6" y="1444.4" width="11" height="46.6" rx="2" fill="#a6a6a6"/>
<rect x="1158.6" y="1498" width="9" height="20" rx="2" fill="#b4b4b4"/>
<rect x="1144.6" y="1503" width="9" height="16" rx="2" fill="#e0e0e0"/>
<rect x="1151.6" y="1523" width="11" height="10" rx="2" fill="#dcdcdc"/>
<rect x="1143.6" y="1557.4" width="11" height="46.6" rx="2" fill="#a6a6a6"/>
<rect x="1147.6" y="1611" width="13" height="18" rx="2" fill="#cccccc"/>
<rect x="1152.1" y="1652" width="9" height="27" rx="2" fill="#c4c4c4"/>
<rect x="1199.0" y="1469.0" width="11" height="22.0" rx="2" fill="#a6a6a6"/>
<rect x="1214.0" y="1498" width="9" height="20" rx="2" fill="#b4b4b4"/>
<rect x="1200.0" y="1503" width="9" height="16" rx="2" fill="#e0e0e0"/>
<rect x="1207.0" y="1523" width="11" height="10" rx="2" fill="#dcdcdc"/>
<rect x="1199.0" y="1582.0" width="11" height="22.0" rx="2" fill="#a6a6a6"/>
<rect x="1203.0" y="1611" width="13" height="18" rx="2" fill="#cccccc"/>
<rect x="1207.5" y="1652" width="9" height="27" rx="2" fill="#c4c4c4"/>
<rect x="1236.0" y="1470.6" width="11" height="20.4" rx="2" fill="#a6a6a6"/>
<rect x="1251.0" y="1498" width="9" height="20" rx="2" fill="#b4b4b4"/>
<rect x="1237.0" y="1503" width="9" height="16" rx="2" fill="#e0e0e0"/>
<rect x="1244.0" y="1523" width="11" height="10" rx="2" fill="#dcdcdc"/>
<rect x="1236.0" y="1583.6" width="11" height="20.4" rx="2" fill="#a6a6a6"/>
<rect x="1240.0" y="1611" width="13" height="18" rx="2" fill="#cccccc"/>
<rect x="1244.5" y="1652" width="9" height="27" rx="2" fill="#c4c4c4"/>
<rect x="698" y="1702" width="221" height="11" fill="#c8c8c8"/>
<rect x="730" y="1716" width="160" height="10" fill="#cecece"/>
<rect x="76" y="1725" width="106" height="11" fill="#c8c8c8"/>
</g>
<g filter="url(#bl)" style="mix-blend-mode:multiply">
<path d="M357,1528 L1270,1528" fill="none" stroke="#f0f0f0" stroke-width="1.5" stroke-linejoin="round" style="mix-blend-mode:multiply"/>
<path d="M357,1700 L357,1638 L1274,1638 L1274,1700 Z" fill="none" stroke="#d0d0d0" stroke-width="2.5" stroke-dasharray="5,2.5" style="mix-blend-mode:multiply"/>
</g></g>
</svg></body></html>
